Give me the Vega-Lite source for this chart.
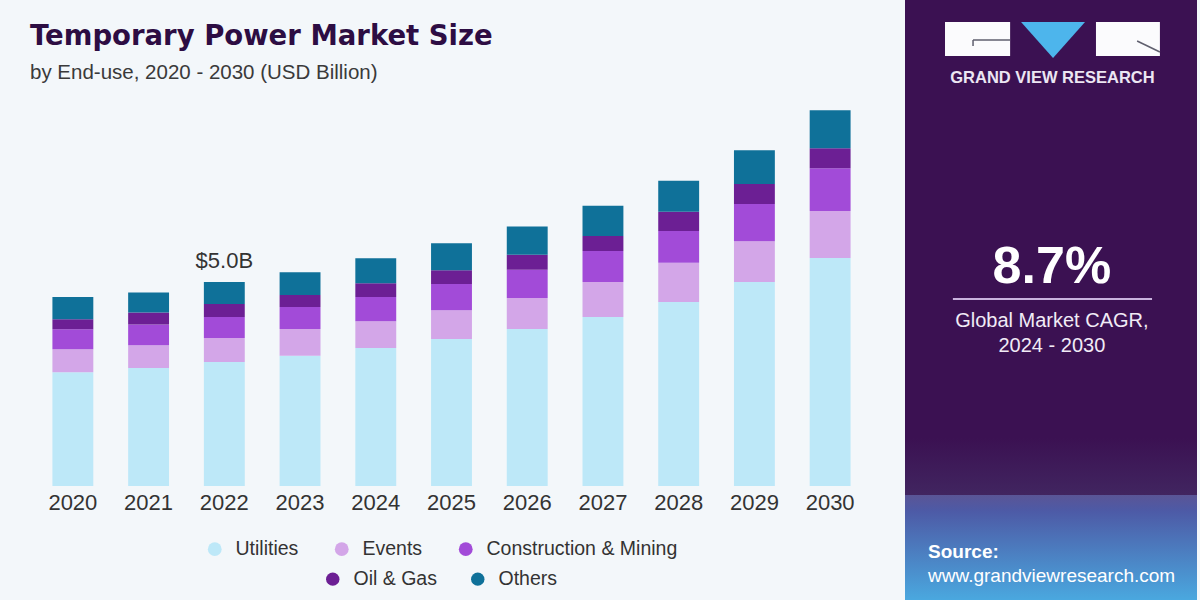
{
  "$schema": "https://vega.github.io/schema/vega-lite/v6.json",
  "background": "#f3f7fa",
  "padding": {"left": 30, "top": 0, "right": 3, "bottom": 0},
  "autosize": {"type": "pad"},
  "bounds": "flush",
  "spacing": 37,
  "config": {
    "view": {"stroke": null},
    "font": "Liberation Sans"
  },
  "hconcat": [
    {
      "width": 833,
      "height": 486,
      "data": {
        "values": [
          {"year": "2020", "Utilities": 2.79, "Events": 0.56, "Construction & Mining": 0.49, "Oil & Gas": 0.25, "Others": 0.54},
          {"year": "2021", "Utilities": 2.89, "Events": 0.56, "Construction & Mining": 0.51, "Oil & Gas": 0.29, "Others": 0.49},
          {"year": "2022", "Utilities": 3.04, "Events": 0.59, "Construction & Mining": 0.51, "Oil & Gas": 0.32, "Others": 0.54},
          {"year": "2023", "Utilities": 3.19, "Events": 0.66, "Construction & Mining": 0.54, "Oil & Gas": 0.29, "Others": 0.56},
          {"year": "2024", "Utilities": 3.38, "Events": 0.66, "Construction & Mining": 0.59, "Oil & Gas": 0.34, "Others": 0.61},
          {"year": "2025", "Utilities": 3.60, "Events": 0.71, "Construction & Mining": 0.64, "Oil & Gas": 0.34, "Others": 0.66},
          {"year": "2026", "Utilities": 3.85, "Events": 0.76, "Construction & Mining": 0.69, "Oil & Gas": 0.37, "Others": 0.69},
          {"year": "2027", "Utilities": 4.14, "Events": 0.86, "Construction & Mining": 0.76, "Oil & Gas": 0.37, "Others": 0.74},
          {"year": "2028", "Utilities": 4.51, "Events": 0.96, "Construction & Mining": 0.78, "Oil & Gas": 0.47, "Others": 0.76},
          {"year": "2029", "Utilities": 5.00, "Events": 1.00, "Construction & Mining": 0.91, "Oil & Gas": 0.49, "Others": 0.83},
          {"year": "2030", "Utilities": 5.59, "Events": 1.15, "Construction & Mining": 1.05, "Oil & Gas": 0.49, "Others": 0.93}
        ]
      },
      "transform": [
        {"fold": ["Utilities", "Events", "Construction & Mining", "Oil & Gas", "Others"], "as": ["segment", "value"]}
      ],
      "title": {
        "text": "Temporary Power Market Size",
        "subtitle": "by End-use, 2020 - 2030 (USD Billion)",
        "anchor": "start",
        "frame": "group",
        "offset": -83,
        "dx": -5,
        "font": "DejaVu Sans",
        "fontSize": 27.5,
        "fontWeight": "bold",
        "color": "#2d0d43",
        "subtitleFont": "Liberation Sans",
        "subtitleFontSize": 20.5,
        "subtitleColor": "#3a3a3a",
        "subtitlePadding": 12
      },
      "encoding": {
        "x": {
          "field": "year",
          "type": "ordinal",
          "scale": {"type": "band", "paddingInner": 0.46, "paddingOuter": 0.23},
          "axis": {
            "title": null,
            "domain": false,
            "ticks": false,
            "labelAngle": 0,
            "labelAlign": "center",
            "labelBaseline": "top",
            "labelFont": "Liberation Sans",
            "labelFontSize": 22,
            "labelColor": "#333333",
            "labelPadding": 6
          }
        }
      },
      "layer": [
        {
          "transform": [
            {"filter": "datum.segment === 'Oil & Gas' || datum.segment === 'Others'"}
          ],
          "mark": {"type": "point", "filled": true, "opacity": 0, "size": 20},
          "encoding": {
            "y": {"field": "value", "type": "quantitative", "stack": null, "scale": {"domain": [0, 11.912], "nice": false}, "axis": null},
            "color": {
              "field": "segment",
              "type": "nominal",
              "scale": {"domain": ["Oil & Gas", "Others"], "range": ["#6c1f94", "#0f7199"]},
              "legend": {
                "orient": "none",
                "legendX": 288,
                "legendY": 569,
                "direction": "horizontal",
                "title": null,
                "padding": 0,
                "symbolType": "circle",
                "symbolSize": 180,
                "symbolOpacity": 1,
                "symbolStrokeWidth": 0,
                "labelFont": "Liberation Sans",
                "labelFontSize": 19.5,
                "labelLimit": 0,
                "labelColor": "#333333",
                "labelOffset": 11,
                "columnPadding": 31
              }
            }
          }
        },
        {
          "transform": [
            {"calculate": "indexof(['Utilities', 'Events', 'Construction & Mining', 'Oil & Gas', 'Others'], datum.segment)", "as": "stackOrder"}
          ],
          "mark": {"type": "bar", "strokeWidth": 0},
          "encoding": {
            "y": {
              "field": "value",
              "type": "quantitative",
              "stack": "zero",
              "scale": {"domain": [0, 11.912], "nice": false},
              "axis": null
            },
            "fill": {
              "field": "segment",
              "type": "nominal",
              "scale": {
                "domain": ["Utilities", "Events", "Construction & Mining", "Oil & Gas", "Others"],
                "range": ["#bde8f8", "#d3a6e8", "#a24bd8", "#6c1f94", "#0f7199"]
              },
              "legend": {
                "orient": "none",
                "legendX": 170,
                "legendY": 539,
                "direction": "horizontal",
                "values": ["Utilities", "Events", "Construction & Mining"],
                "title": null,
                "padding": 0,
                "symbolType": "circle",
                "symbolSize": 190,
                "symbolStrokeWidth": 0,
                "labelFont": "Liberation Sans",
                "labelFontSize": 19.5,
                "labelLimit": 0,
                "labelColor": "#333333",
                "labelOffset": 11,
                "columnPadding": 33
              }
            },
            "order": {"field": "stackOrder", "type": "quantitative"}
          }
        },
        {
          "transform": [
            {"filter": "datum.year === '2022'"},
            {"aggregate": [{"op": "sum", "field": "value", "as": "total"}], "groupby": ["year"]},
            {"calculate": "'$' + format(datum.total, '.1f') + 'B'", "as": "label"}
          ],
          "mark": {"type": "text", "baseline": "alphabetic", "dy": -14, "font": "Liberation Sans", "fontSize": 22, "color": "#333333"},
          "encoding": {
            "y": {"field": "total", "type": "quantitative", "axis": null},
            "text": {"field": "label"}
          }
        }
      ]
    },
    {
      "width": 292,
      "height": 600,
      "view": {"fill": "#3b1152", "stroke": null},
      "data": {"values": [{}]},
      "layer": [
        {
          "mark": {"type": "rect", "fill": {"gradient": "linear", "x1": 0, "y1": 0, "x2": 0, "y2": 1, "stops": [{"offset": 0, "color": "#3b1152"}, {"offset": 1, "color": "#412560"}]}},
          "encoding": {
            "x": {"datum": 0, "type": "quantitative", "scale": {"domain": [0, 1]}, "axis": null},
            "x2": {"datum": 1},
            "y": {"datum": 0.73, "type": "quantitative", "scale": {"domain": [0, 1], "reverse": true}, "axis": null},
            "y2": {"datum": 0.825}
          }
        },
        {
          "mark": {"type": "rect", "fill": {"gradient": "linear", "x1": 0, "y1": 0, "x2": 0, "y2": 1, "stops": [{"offset": 0, "color": "#5a5596"}, {"offset": 0.15, "color": "#4d5aa6"}, {"offset": 1, "color": "#4aa8df"}]}},
          "encoding": {
            "x": {"datum": 0, "type": "quantitative", "axis": null},
            "x2": {"datum": 1},
            "y": {"datum": 0.825, "type": "quantitative", "axis": null},
            "y2": {"datum": 1}
          }
        },
        {
          "mark": {"type": "rect", "fill": "#fbfbfd"},
          "encoding": {
            "x": {"datum": 0.137, "type": "quantitative", "axis": null},
            "x2": {"datum": 0.360},
            "y": {"datum": 0.0367, "type": "quantitative", "axis": null},
            "y2": {"datum": 0.0933}
          }
        },
        {
          "mark": {"type": "rect", "fill": "#fbfbfd"},
          "encoding": {
            "x": {"datum": 0.654, "type": "quantitative", "axis": null},
            "x2": {"datum": 0.873},
            "y": {"datum": 0.0367, "type": "quantitative", "axis": null},
            "y2": {"datum": 0.0933}
          }
        },
        {
          "mark": {"type": "point", "shape": "M-1,-0.5625L1,-0.5625L0,0.5625Z", "size": 4096, "filled": true, "fill": "#4db5ec", "opacity": 1, "strokeWidth": 0},
          "encoding": {
            "x": {"datum": 0.507, "type": "quantitative", "axis": null},
            "y": {"datum": 0.0667, "type": "quantitative", "axis": null}
          }
        },
        {
          "mark": {"type": "rule", "color": "#5f5f6e", "strokeWidth": 1.5},
          "encoding": {
            "x": {"datum": 0.233, "type": "quantitative", "axis": null},
            "x2": {"datum": 0.360},
            "y": {"datum": 0.0667, "type": "quantitative", "axis": null},
            "y2": {"datum": 0.0667}
          }
        },
        {
          "mark": {"type": "rule", "color": "#5f5f6e", "strokeWidth": 1.5},
          "encoding": {
            "x": {"datum": 0.233, "type": "quantitative", "axis": null},
            "x2": {"datum": 0.233},
            "y": {"datum": 0.0667, "type": "quantitative", "axis": null},
            "y2": {"datum": 0.0767}
          }
        },
        {
          "mark": {"type": "rule", "color": "#5f5f6e", "strokeWidth": 1.5},
          "encoding": {
            "x": {"datum": 0.795, "type": "quantitative", "axis": null},
            "x2": {"datum": 0.873},
            "y": {"datum": 0.0683, "type": "quantitative", "axis": null},
            "y2": {"datum": 0.0867}
          }
        },
        {
          "mark": {"type": "text", "text": "GRAND VIEW RESEARCH", "font": "Liberation Sans", "fontWeight": "bold", "fontSize": 16.5, "color": "#ece6f3", "align": "center", "baseline": "middle"},
          "encoding": {
            "x": {"datum": 0.505, "type": "quantitative", "axis": null},
            "y": {"datum": 0.13, "type": "quantitative", "axis": null}
          }
        },
        {
          "mark": {"type": "text", "text": "8.7%", "font": "Liberation Sans", "fontWeight": "bold", "fontSize": 52, "color": "#ffffff", "align": "center", "baseline": "alphabetic"},
          "encoding": {
            "x": {"datum": 0.503, "type": "quantitative", "axis": null},
            "y": {"datum": 0.4717, "type": "quantitative", "axis": null}
          }
        },
        {
          "mark": {"type": "rule", "color": "#c9b3de", "strokeWidth": 2},
          "encoding": {
            "x": {"datum": 0.164, "type": "quantitative", "axis": null},
            "x2": {"datum": 0.846},
            "y": {"datum": 0.4983, "type": "quantitative", "axis": null},
            "y2": {"datum": 0.4983}
          }
        },
        {
          "mark": {"type": "text", "text": "Global Market CAGR,", "font": "Liberation Sans", "fontSize": 20, "color": "#f1ebf6", "align": "center", "baseline": "alphabetic"},
          "encoding": {
            "x": {"datum": 0.503, "type": "quantitative", "axis": null},
            "y": {"datum": 0.545, "type": "quantitative", "axis": null}
          }
        },
        {
          "mark": {"type": "text", "text": "2024 - 2030", "font": "Liberation Sans", "fontSize": 20, "color": "#f1ebf6", "align": "center", "baseline": "alphabetic"},
          "encoding": {
            "x": {"datum": 0.503, "type": "quantitative", "axis": null},
            "y": {"datum": 0.5867, "type": "quantitative", "axis": null}
          }
        },
        {
          "mark": {"type": "text", "text": "Source:", "font": "Liberation Sans", "fontWeight": "bold", "fontSize": 19, "color": "#ffffff", "align": "left", "baseline": "alphabetic"},
          "encoding": {
            "x": {"datum": 0.079, "type": "quantitative", "axis": null},
            "y": {"datum": 0.93, "type": "quantitative", "axis": null}
          }
        },
        {
          "mark": {"type": "text", "text": "www.grandviewresearch.com", "font": "Liberation Sans", "fontSize": 19, "color": "#ffffff", "align": "left", "baseline": "alphabetic"},
          "encoding": {
            "x": {"datum": 0.079, "type": "quantitative", "axis": null},
            "y": {"datum": 0.97, "type": "quantitative", "axis": null}
          }
        }
      ]
    }
  ]
}
